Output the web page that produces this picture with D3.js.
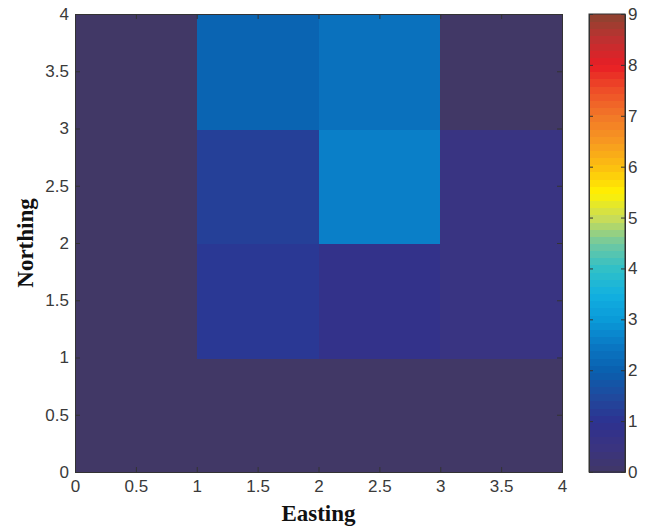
<!DOCTYPE html>
<html>
<head>
<meta charset="utf-8">
<script src="https://cdn.jsdelivr.net/npm/d3@7"></script>
<style>
  body { margin: 0; background: #fff; }
  .tick text { font-family: "Liberation Sans", Arial, sans-serif; font-size: 17px; fill: #3a3a3a; }
  .lbl { font-family: "Liberation Serif", "Times New Roman", serif; font-size: 23px; font-weight: bold; fill: #111; }
</style>
</head>
<body>
<div id="chart"></div>
<script>
// grid cells: column edges (Easting) and row edges (Northing), values row by row from the bottom
const eastingEdges = [0, 1, 2, 3, 4];
const northingEdges = [0, 1, 2, 3, 4];
const cellRows = [
  [0, 0, 0, 0],
  [0, 1.15, 0.8, 0.55],
  [0, 1.3, 2.6, 0.55],
  [0, 2.1, 2.35, 0]
];
const axisTicks = [0, 0.5, 1, 1.5, 2, 2.5, 3, 3.5, 4];
const barTicks = [0, 1, 2, 3, 4, 5, 6, 7, 8, 9];

// colormap stops
const cmapValues = [0, 0.5, 1, 1.5, 2, 2.5, 3, 3.5, 4, 4.5, 5, 5.5, 6, 6.5, 7, 7.5, 8, 8.5, 9];
const cmapColors = ["#413866", "#3a3480", "#2e3190", "#1f4a9e", "#0a5fae", "#0a78c4", "#0a9ad8",
  "#12b0e0", "#30c0c8", "#70c8a0", "#c8dc58", "#fff200", "#fcc010", "#f79a20", "#f27828",
  "#ee5028", "#e81e25", "#c03030", "#8c4430"];

const W = 649, H = 526;
const plot = { left: 75, right: 562, top: 14, bottom: 472 };
const bar = { left: 589, right: 625 };

const color = d3.scaleLinear().domain(cmapValues).range(cmapColors).clamp(true);

const svg = d3.select("#chart").append("svg").attr("width", W).attr("height", H);

const x = d3.scaleLinear().domain([0, 4]).range([plot.left, plot.right]);
const y = d3.scaleLinear().domain([0, 4]).range([plot.bottom, plot.top]);

const cells = [];
cellRows.forEach((row, r) => row.forEach((v, c) => cells.push({ r, c, v })));

svg.append("g").attr("shape-rendering", "crispEdges")
  .selectAll("rect").data(cells).join("rect")
  .attr("x", d => x(eastingEdges[d.c]))
  .attr("y", d => y(northingEdges[d.r + 1]))
  .attr("width", d => x(eastingEdges[d.c + 1]) - x(eastingEdges[d.c]) + 1)
  .attr("height", d => y(northingEdges[d.r]) - y(northingEdges[d.r + 1]) + 1)
  .attr("fill", d => color(d.v));

// axes, MATLAB style: ticks inside on all four sides
const axCol = "#333";
function styleAxis(g) {
  g.select(".domain").attr("stroke", axCol);
  g.selectAll(".tick line").attr("stroke", axCol);
}
svg.append("g").attr("transform", `translate(0,${plot.bottom})`)
  .call(d3.axisBottom(x).tickValues(axisTicks).tickSize(-5).tickPadding(8).tickFormat(d3.format("")))
  .call(styleAxis);
svg.append("g").attr("transform", `translate(0,${plot.top})`)
  .call(d3.axisTop(x).tickValues(axisTicks).tickSize(-5).tickFormat(""))
  .call(styleAxis);
svg.append("g").attr("transform", `translate(${plot.left},0)`)
  .call(d3.axisLeft(y).tickValues(axisTicks).tickSize(-5).tickPadding(6).tickFormat(d3.format("")))
  .call(styleAxis);
svg.append("g").attr("transform", `translate(${plot.right},0)`)
  .call(d3.axisRight(y).tickValues(axisTicks).tickSize(-5).tickFormat(""))
  .call(styleAxis);

// colour bar, 64 bands like a MATLAB colormap
const cb = d3.scaleLinear().domain([0, 9]).range([plot.bottom, plot.top]);
const bands = d3.range(64).map(i => ({ lo: i * 9 / 64, hi: (i + 1) * 9 / 64 }));
svg.append("g").attr("shape-rendering", "crispEdges")
  .selectAll("rect").data(bands).join("rect")
  .attr("x", bar.left)
  .attr("width", bar.right - bar.left)
  .attr("y", d => cb(d.hi))
  .attr("height", d => cb(d.lo) - cb(d.hi) + 1)
  .attr("fill", d => color((d.lo + d.hi) / 2));

svg.append("g").attr("transform", `translate(${bar.right},0)`)
  .call(d3.axisRight(cb).tickValues(barTicks).tickSize(-4).tickPadding(3).tickFormat(d3.format("d")))
  .call(styleAxis);
svg.append("g").attr("transform", `translate(${bar.left},0)`)
  .call(d3.axisLeft(cb).tickValues(barTicks).tickSize(-4).tickFormat(""))
  .call(styleAxis);
svg.append("rect")
  .attr("x", bar.left).attr("y", plot.top)
  .attr("width", bar.right - bar.left).attr("height", plot.bottom - plot.top)
  .attr("fill", "none").attr("stroke", axCol);

svg.selectAll(".tick text").style("font-size", null).style("font-family", null);

svg.append("text").attr("class", "lbl")
  .attr("x", (plot.left + plot.right) / 2).attr("y", 521)
  .attr("text-anchor", "middle").text("Easting");
svg.append("text").attr("class", "lbl")
  .attr("transform", `translate(33,${(plot.top + plot.bottom) / 2}) rotate(-90)`)
  .attr("text-anchor", "middle").text("Northing");
</script>
</body>
</html>
